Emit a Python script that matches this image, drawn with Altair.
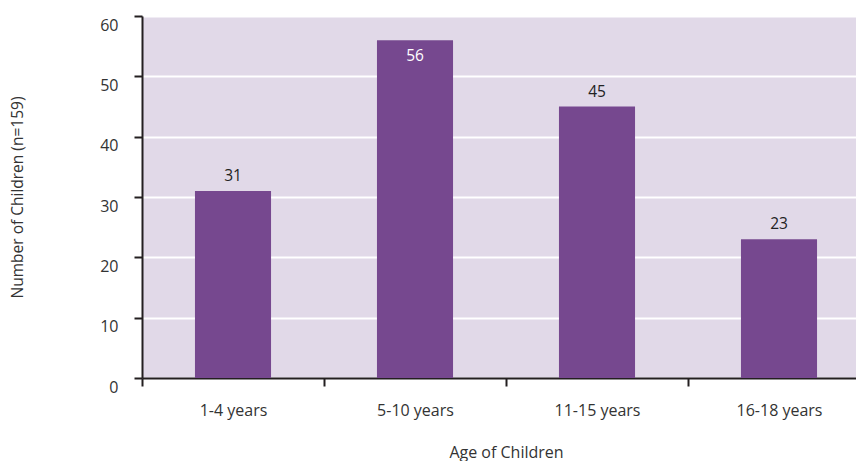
import altair as alt
import pandas as pd

# Children by age group
categories = ["1-4 years", "5-10 years", "11-15 years", "16-18 years"]
counts = [31, 56, 45, 23]

df = pd.DataFrame({"age": categories, "count": counts})

FONT = "Open Sans"
TEXT = "#333333"
AXIS = "#231f20"
BAR = "#76488f"
BG = "#e1d9e8"

x = alt.X(
    "age:N",
    sort=categories,
    title="Age of Children",
    scale=alt.Scale(range=[0, 728], paddingInner=0, paddingOuter=0),
    axis=alt.Axis(
        labelAngle=0,
        labelFontSize=16,
        labelColor=TEXT,
        labelFont=FONT,
        labelPadding=16,
        tickBand="extent",
        tickSize=8,
        tickWidth=2,
        tickColor=AXIS,
        domainColor=AXIS,
        domainWidth=2,
        titleFontSize=16,
        titleFont=FONT,
        titleColor=TEXT,
        titleFontWeight="normal",
        titlePadding=26,
        grid=False,
    ),
)

y = alt.Y(
    "count:Q",
    title="Number of Children (n=159)",
    scale=alt.Scale(domain=[0, 60], nice=False),
    axis=alt.Axis(
        values=[0, 10, 20, 30, 40, 50, 60],
        labelFontSize=16,
        labelColor=TEXT,
        labelFont=FONT,
        labelPadding=16,
        labelOffset=9,
        tickSize=8,
        tickWidth=2,
        tickColor=AXIS,
        domainColor=AXIS,
        domainWidth=2,
        grid=True,
        gridColor="white",
        gridWidth=2,
        titleFontSize=15.5,
        titleFont=FONT,
        titleColor=TEXT,
        titleFontWeight="normal",
        titlePadding=74,
    ),
)

base = alt.Chart(df).encode(x=x, y=y)

bars = base.mark_bar(color=BAR, width=alt.RelativeBandSize(0.418))

labels_above = base.transform_filter("datum.count < 50").mark_text(
    dy=-15, fontSize=15.5, fontWeight="normal", font=FONT, color="#222222", baseline="middle"
).encode(text="count:Q")

labels_inside = base.transform_filter("datum.count >= 50").mark_text(
    dy=16, fontSize=15.5, fontWeight="normal", font=FONT, color="white", baseline="middle"
).encode(text="count:Q")

chart = (
    alt.layer(bars, labels_above, labels_inside)
    .properties(
        width=714,
        height=362,
        autosize=alt.AutoSizeParams(type="none"),
        padding={"left": 142, "top": 16, "right": 0, "bottom": 83},
        background="white",
    )
    .configure_view(stroke=None, fill=BG)
)

chart.save("out.html", embed_options={"renderer": "svg", "actions": False})
